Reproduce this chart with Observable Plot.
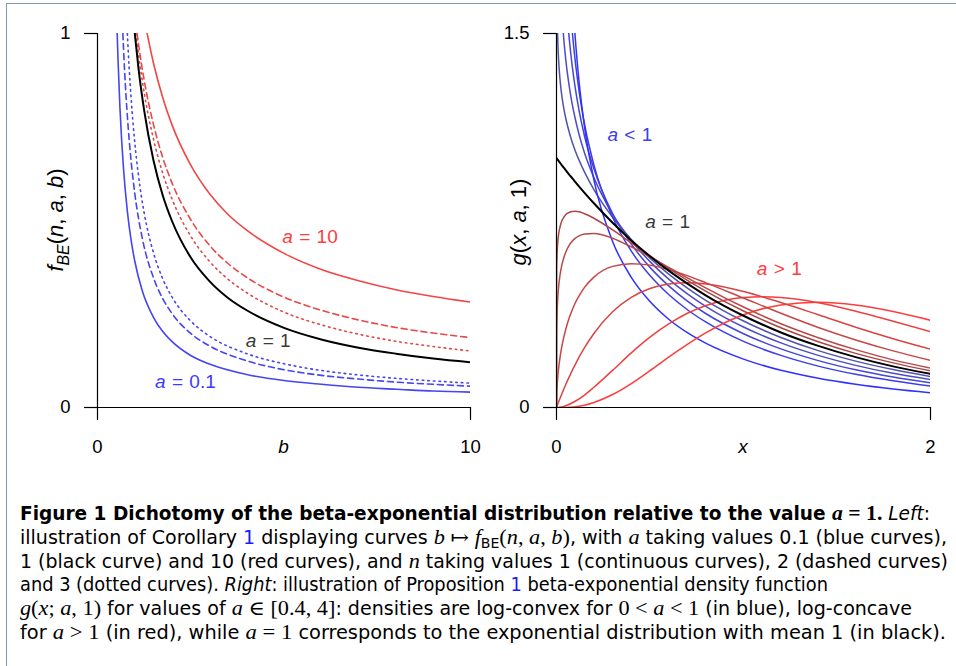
<!DOCTYPE html>
<html>
<head>
<meta charset="utf-8">
<script src="https://cdn.jsdelivr.net/npm/d3@7"></script>
<script src="https://cdn.jsdelivr.net/npm/@observablehq/plot@0.6"></script>
<style>
  html, body { margin:0; padding:0; background:#fff; }
  body { width:956px; height:666px; position:relative; overflow:hidden; }
  #frame { position:absolute; left:6px; top:3px; width:980px; height:700px; border-left:1px solid #8496b0; border-top:1px solid #8496b0; }
  #left, #right { position:absolute; top:0; }
  #left { left:0; }
  #right { left:478px; }
  #cap { position:absolute; left:0; top:480px; }
  svg text { white-space: pre; }
</style>
</head>
<body>
<div id="frame"></div>
<div id="left"></div>
<div id="right"></div>
<svg id="cap" width="956" height="186"></svg>
<script>
// ---------------- Left panel: b -> f_BE(n, a, b) ----------------
const bBlueN1 = [0.528, 0.55, 0.6, 0.65, 0.7, 0.8, 0.9, 1.0, 1.2, 1.5, 1.75, 2, 2.5, 3, 4, 5, 6, 7, 8, 9, 10];
const fBlueN1 = [1.0, 0.931, 0.805, 0.710, 0.635, 0.525, 0.448, 0.391, 0.312, 0.241, 0.203, 0.176, 0.139, 0.116, 0.088, 0.072, 0.062, 0.054, 0.049, 0.044, 0.041];
const bBlueN2 = [0.68, 0.7, 0.75, 0.8, 0.9, 1.0, 1.2, 1.5, 1.75, 2, 2.5, 3, 4, 5, 6, 7, 8, 9, 10];
const fBlueN2 = [1.0, 0.955, 0.858, 0.780, 0.660, 0.572, 0.453, 0.347, 0.291, 0.251, 0.198, 0.165, 0.125, 0.101, 0.086, 0.076, 0.068, 0.062, 0.057];
const bBlueN3 = [0.8, 0.85, 0.9, 1.0, 1.1, 1.25, 1.5, 1.75, 2, 2.5, 3, 4, 5, 6, 7, 8, 9, 10];
const fBlueN3 = [1.0, 0.906, 0.829, 0.708, 0.619, 0.521, 0.414, 0.344, 0.295, 0.231, 0.191, 0.144, 0.117, 0.099, 0.087, 0.078, 0.071, 0.065];
const bBlack = [1.0, 1.1, 1.25, 1.5, 1.75, 2.0, 2.5, 3, 3.5, 4, 5, 6, 7, 8, 9, 10];
const fBlack = [1.0, 0.906, 0.795, 0.661, 0.567, 0.498, 0.401, 0.338, 0.293, 0.260, 0.213, 0.182, 0.160, 0.144, 0.131, 0.121];
const bRedN3 = [1.03, 1.1, 1.25, 1.5, 1.75, 2, 2.5, 3, 3.5, 4, 5, 6, 7, 8, 9, 10];
const fRedN3 = [1.0, 0.944, 0.843, 0.718, 0.626, 0.557, 0.458, 0.391, 0.343, 0.307, 0.255, 0.221, 0.196, 0.177, 0.163, 0.151];
const bRedN2 = [1.06, 1.15, 1.25, 1.5, 1.75, 2, 2.5, 3, 3.5, 4, 5, 6, 7, 8, 9, 10];
const fRedN2 = [1.0, 0.937, 0.876, 0.757, 0.668, 0.600, 0.502, 0.434, 0.385, 0.348, 0.295, 0.260, 0.234, 0.214, 0.199, 0.187];
const bRedN1 = [1.33, 1.5, 1.75, 2, 2.5, 3, 3.5, 4, 5, 6, 7, 8, 9, 10];
const fRedN1 = [1.0, 0.921, 0.828, 0.755, 0.648, 0.572, 0.516, 0.474, 0.412, 0.369, 0.339, 0.315, 0.297, 0.282];
const leftXTicks = [0, 10];
const leftYTicks = [0, 1];

// ---------------- Right panel: x -> g(x; a, 1) ----------------
const xs = [0, 0.0002, 0.001, 0.003, 0.006, 0.01, 0.02, 0.03, 0.04, 0.05, 0.07, 0.085, 0.1, 0.12, 0.15, 0.2, 0.3, 0.4, 0.5, 0.6, 0.7, 0.8, 1.0, 1.1, 1.2, 1.4, 1.6, 1.8, 2.0];
const gA04 = [null, null, null, null, null, null, null, null, 2.683, 2.331, 1.878, 1.654, 1.485, 1.312, 1.124, 0.913, 0.666, 0.522, 0.425, 0.354, 0.300, 0.257, 0.194, null, 0.149, 0.117, 0.093, 0.074, 0.059];
const gA06 = [null, null, null, null, null, null, null, 2.382, 2.106, 1.911, 1.644, 1.502, 1.391, 1.273, 1.136, 0.973, 0.763, 0.627, 0.529, 0.453, 0.392, 0.342, 0.265, null, 0.209, 0.166, 0.133, 0.107, 0.086];
const gA07 = [null, null, null, null, null, null, 2.225, 1.954, 1.777, 1.648, 1.465, 1.364, 1.283, 1.194, 1.088, 0.957, 0.778, 0.655, 0.562, 0.488, 0.427, 0.376, 0.296, null, 0.235, 0.188, 0.151, 0.122, 0.099];
const gA08 = [null, null, null, null, 2.214, 1.992, 1.718, 1.570, 1.469, 1.392, 1.279, 1.213, 1.159, 1.097, 1.021, 0.922, 0.776, 0.670, 0.585, 0.515, 0.456, 0.405, 0.323, null, 0.259, 0.209, 0.169, 0.137, 0.112];
const gA09 = [null, null, 1.794, 1.604, 1.493, 1.413, 1.306, 1.242, 1.196, 1.158, 1.099, 1.062, 1.030, 0.993, 0.944, 0.874, 0.763, 0.674, 0.599, 0.535, 0.479, 0.429, 0.347, null, 0.281, 0.228, 0.186, 0.152, 0.124];
const gA10 = [1, 0.9998, 0.999, 0.997, 0.994, 0.990, 0.980, 0.970, 0.961, 0.951, 0.932, 0.919, 0.905, 0.887, 0.861, 0.819, 0.741, 0.670, 0.607, 0.549, 0.497, 0.449, 0.368, 0.333, 0.301, 0.247, 0.202, 0.165, 0.135];
const gA11 = [0, 0.469, 0.551, 0.613, 0.655, 0.687, 0.728, 0.751, 0.764, 0.774, 0.783, 0.786, 0.787, 0.785, 0.777, 0.759, 0.712, 0.660, 0.608, 0.558, 0.510, 0.466, 0.387, null, 0.320, 0.264, 0.217, 0.179, 0.147];
const gA12 = [0, 0.219, 0.301, 0.374, 0.429, 0.473, 0.537, 0.576, 0.603, 0.624, 0.653, 0.668, 0.678, 0.688, 0.696, 0.698, 0.679, 0.644, 0.604, 0.562, 0.520, 0.479, 0.403, null, 0.336, 0.280, 0.232, 0.191, 0.158];
const gA15 = [0, 0.021, 0.047, 0.082, 0.115, 0.148, 0.207, 0.250, 0.285, 0.315, 0.364, 0.393, 0.419, 0.447, 0.482, 0.523, 0.566, 0.577, 0.571, 0.553, 0.529, 0.500, 0.439, null, 0.378, 0.321, 0.271, 0.227, 0.189];
const gA20 = [0, null, 0.002, 0.006, 0.012, 0.020, 0.039, 0.057, 0.075, 0.093, 0.126, 0.150, 0.172, 0.201, 0.240, 0.297, 0.384, 0.442, 0.477, 0.495, 0.500, 0.495, 0.465, null, 0.421, 0.372, 0.322, 0.276, 0.234];
const gA30 = [0, null, null, null, null, null, 0.001, null, null, 0.007, null, null, 0.025, null, 0.050, 0.081, 0.149, 0.219, 0.282, 0.335, 0.378, 0.409, 0.441, 0.444, 0.441, 0.420, 0.386, 0.346, 0.304];
const gA40 = [0, null, null, null, null, null, null, null, null, 0.0004, null, null, 0.003, null, 0.009, 0.020, 0.052, 0.096, 0.148, 0.202, 0.253, 0.300, 0.372, null, 0.411, 0.422, 0.411, 0.385, 0.350];
const rightXTicks = [0, 2];
const rightYTicks = [0, 1.5];

// ---------------- helpers ----------------
const FONT = "'Liberation Sans', Arial, Helvetica, sans-serif";
const SERIF = "'Liberation Serif', 'DejaVu Serif', serif";
const CAPFONT = "'Liberation Sans Narrow', 'DejaVu Sans Condensed', 'Arial Narrow', 'Liberation Sans', sans-serif";
const BLUE = "#4545f2", RED = "#f24545";

const pairRows = (bs, fs) => bs.map((b, i) => ({x: b, y: fs[i]}));
const gridRows = (gs) => xs.map((x, i) => ({x, y: gs[i]})).filter(d => d.y != null);

function line(rows, stroke, width, dash) {
  return Plot.line(rows, {x: "x", y: "y", curve: "monotone-x", stroke, strokeWidth: width,
    strokeDasharray: dash, strokeLinejoin: "round", clip: true});
}

function panel(xDomain, yDomain, mLeft, mRight, xTicks, yTicks, marks) {
  return Plot.plot({
    width: 478, height: 470,
    marginLeft: mLeft, marginRight: mRight, marginTop: 33, marginBottom: 63,
    x: {domain: xDomain}, y: {domain: yDomain},
    style: {fontFamily: FONT, fontSize: "18.5px", color: "#000", background: "transparent", overflow: "visible"},
    marks: [
      ...marks,
      Plot.ruleX([xDomain[0]], {y1: yDomain[0], y2: yDomain[1], stroke: "#000", strokeWidth: 1.2}),
      Plot.ruleY([yDomain[0]], {x1: xDomain[0], x2: xDomain[1], stroke: "#000", strokeWidth: 1.2}),
      Plot.axisX({ticks: xTicks, tickSize: 13, tickPadding: 19, tickFormat: d => String(d), label: null, fontSize: 18.5, strokeWidth: 1.2}),
      Plot.axisY({ticks: yTicks, tickSize: 13, tickPadding: 14, tickFormat: d => String(d), label: null, fontSize: 18.5, strokeWidth: 1.2})
    ]
  });
}

function rich(svg, x, y, parts, {size = 19, fill = "#000", rotate = 0, anchor = "middle"} = {}) {
  const t = d3.select(svg).append("text")
    .attr("transform", `translate(${x},${y}) rotate(${rotate})`)
    .attr("text-anchor", anchor).attr("dy", "0.36em")
    .attr("font-family", FONT).attr("font-size", size).attr("fill", fill);
  let shifted = 0;
  parts.forEach(([s, st]) => {
    const ts = t.append("tspan").text(s);
    if (st.includes("i")) ts.attr("font-style", "italic");
    if (st.includes("s")) { ts.attr("font-size", size * 0.72).attr("dy", size * 0.28); shifted = size * 0.28; }
    else if (shifted) { ts.attr("dy", -shifted); shifted = 0; }
  });
}
const SP = "\u2004";

// ---------------- left plot ----------------
const left = panel([0, 10], [0, 1], 97, 8, leftXTicks, leftYTicks, [
  line(pairRows(bBlueN1, fBlueN1), BLUE, 1.6),
  line(pairRows(bBlueN2, fBlueN2), BLUE, 1.6, "6,4"),
  line(pairRows(bBlueN3, fBlueN3), BLUE, 1.6, "1.6,4"),
  line(pairRows(bRedN3, fRedN3), "#e04848", 1.6, "1.6,4"),
  line(pairRows(bRedN2, fRedN2), "#e84848", 1.6, "6,4"),
  line(pairRows(bRedN1, fRedN1), RED, 1.6),
  line(pairRows(bBlack, fBlack), "#000", 2)
]);
document.getElementById("left").appendChild(left);
{
  const sx = left.scale("x"), sy = left.scale("y");
  rich(left, 55, 220, [["f","i"],["BE","is"],["(",""],["n","i"],[", ",""],["a","i"],[", ",""],["b","i"],[")",""]], {size: 22, rotate: -90});
  rich(left, sx.apply(5), 446, [["b","i"]], {size: 19});
  rich(left, sx.apply(5.71), sy.apply(0.458), [["a","i"],[SP + "=" + SP + "10",""]], {fill: "#ff3b3b"});
  rich(left, sx.apply(4.59), sy.apply(0.179), [["a","i"],[SP + "=" + SP + "1",""]], {fill: "#3a3a3a"});
  rich(left, sx.apply(2.37), sy.apply(0.0696), [["a","i"],[SP + "=" + SP + "0.1",""]], {fill: "#3b3bff"});
}

// ---------------- right plot ----------------
const right = panel([0, 2], [0, 1.5], 78, 26, rightXTicks, rightYTicks, [
  line(gridRows(gA09), "#5252ae", 1.5),
  line(gridRows(gA08), "#4c4cc4", 1.5),
  line(gridRows(gA07), "#4545d6", 1.5),
  line(gridRows(gA06), "#3c3ce8", 1.5),
  line(gridRows(gA04), "#3030ff", 1.5),
  line(gridRows(gA40), "#ff3c3c", 1.5),
  line(gridRows(gA30), "#ee4040", 1.5),
  line(gridRows(gA20), "#d84444", 1.5),
  line(gridRows(gA15), "#c84646", 1.5),
  line(gridRows(gA12), "#b84848", 1.5),
  line(gridRows(gA11), "#b04444", 1.5),
  line(gridRows(gA10), "#000", 2)
]);
document.getElementById("right").appendChild(right);
{
  const sx = right.scale("x"), sy = right.scale("y");
  rich(right, 40, 222, [["g","i"],["(",""],["x","i"],[", ",""],["a","i"],[", 1)",""]], {size: 22, rotate: -90});
  rich(right, sx.apply(1), 446, [["x","i"]], {size: 19});
  rich(right, sx.apply(0.395), sy.apply(1.095), [["a","i"],[SP + "<" + SP + "1",""]], {fill: "#3c3cf0"});
  rich(right, sx.apply(0.597), sy.apply(0.746), [["a","i"],[SP + "=" + SP + "1",""]], {fill: "#3a3a3a"});
  rich(right, sx.apply(1.194), sy.apply(0.557), [["a","i"],[SP + ">" + SP + "1",""]], {fill: "#ff3b3b"});
}

// ---------------- caption ----------------
const capLines = [
  [["Figure 1 Dichotomy of the beta-exponential distribution relative to the value ","b"],["a","mb"],[" = 1.","mrb"],[" ","n"],["Left","i"],[":","n"]],
  [["illustration of Corollary ","n"],["1","l"],[" displaying curves ","n"],["b","m"],[" \u21a6 ","mr"],["f","m"],["BE","sub"],["(","mr"],["n","m"],[", ","mr"],["a","m"],[", ","mr"],["b","m"],[")","mr"],[", with ","n"],["a","m"],[" taking values 0.1 (blue curves),","n"]],
  [["1 (black curve) and 10 (red curves), and ","n"],["n","m"],[" taking values 1 (continuous curves), 2 (dashed curves)","n"]],
  [["and 3 (dotted curves). ","n"],["Right","i"],[": illustration of Proposition ","n"],["1","l"],[" beta-exponential density function","n"]],
  [["g","m"],["(","mr"],["x","m"],["; ","mr"],["a","m"],[", 1)","mr"],[" for values of ","n"],["a","m"],[" \u2208 [0.4, 4]","mr"],[": densities are log-convex for ","n"],["0 < ","mr"],["a","m"],[" < 1","mr"],[" (in blue), log-concave","n"]],
  [["for ","n"],["a","m"],[" > 1","mr"],[" (in red), while ","n"],["a","m"],[" = 1","mr"],[" corresponds to the exponential distribution with mean 1 (in black).","n"]]
];
const capWidths = [910, 927, 928, 808, 892, 926];
const capBaselines = [520, 544, 567.5, 591, 615, 638.5];

{
  const svg = d3.select("#cap");
  capLines.forEach((parts, i) => {
    const t = svg.append("text").attr("x", 20).attr("y", capBaselines[i] - 480)
      .attr("textLength", capWidths[i]).attr("lengthAdjust", "spacingAndGlyphs")
      .attr("font-family", CAPFONT).attr("font-size", 19).attr("fill", "#000");
    let shifted = 0;
    parts.forEach(([s, st]) => {
      const ts = t.append("tspan").text(s);
      if (st === "b") ts.attr("font-weight", "bold");
      if (st === "i") ts.attr("font-style", "italic");
      if (st.startsWith("m")) { ts.attr("font-family", SERIF).attr("font-size", 20); if (st === "m" || st === "mb") ts.attr("font-style", "italic"); if (st.endsWith("b")) ts.attr("font-weight", "bold"); }
      if (st === "l") ts.attr("fill", "#1a1aff");
      if (st === "sub") { ts.attr("font-size", 14).attr("dy", 4); shifted = 4; }
      else if (shifted) { ts.attr("dy", -shifted); shifted = 0; }
    });
  });
}
</script>
</body>
</html>
